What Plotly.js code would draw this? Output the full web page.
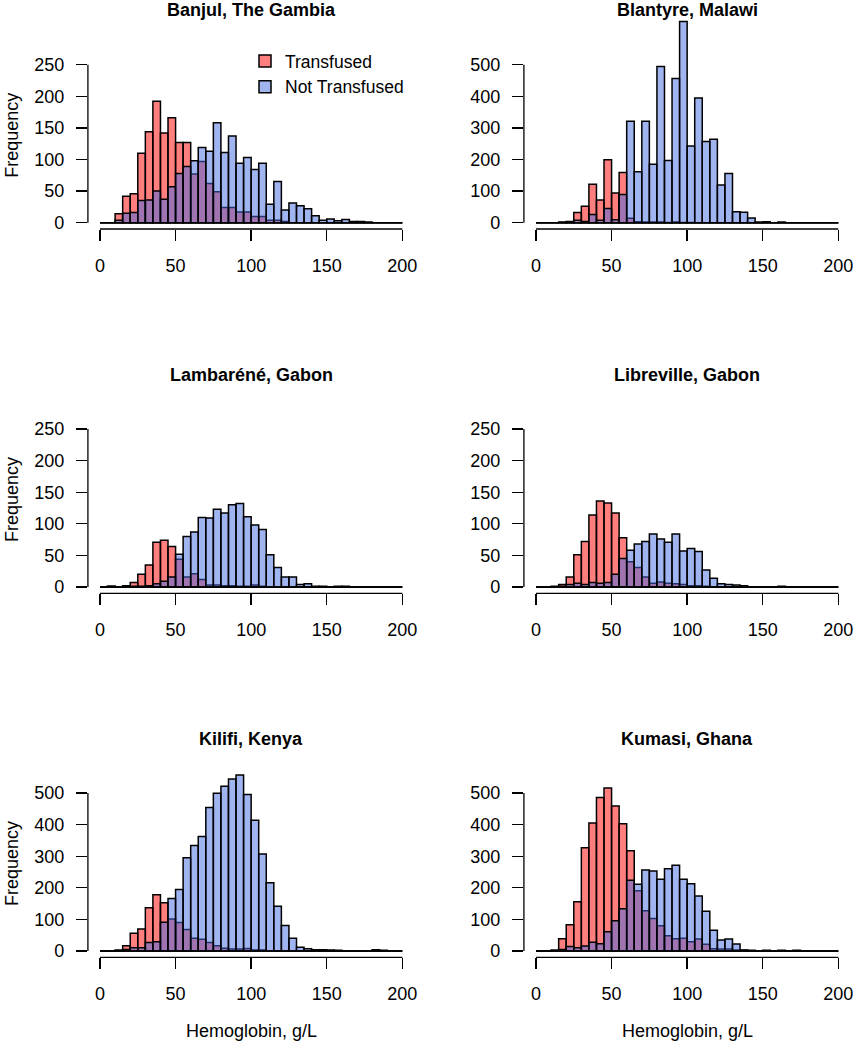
<!DOCTYPE html>
<html>
<head>
<meta charset="utf-8">
<script src="https://cdn.plot.ly/plotly-3.0.1.min.js"></script>
<style>html,body{margin:0;padding:0;background:#fff;}</style>
</head>
<body>
<div id="chart" style="width:857px;height:1050px;"></div>
<script>
// ---- data ----
const binEdges = [0,5,10,15,20,25,30,35,40,45,50,55,60,65,70,75,80,85,90,95,100,
                  105,110,115,120,125,130,135,140,145,150,155,160,165,170,175,180,185,190,195,200];
const xTicks = [0,50,100,150,200];
const sites = ["Banjul, The Gambia","Blantyre, Malawi","Lambaréné, Gabon","Libreville, Gabon","Kilifi, Kenya","Kumasi, Ghana"];
const seriesNames = ["Transfused","Not Transfused"];
const yTickMax = [250,500,250,250,500,500];

const banjulTransfused    = [0,0,14,42,46,110,144,192,142,166,127,127,77,97,62,49,24,24,17,17,10,10,4,4,2,0,0,0,0,0,0,0,0,0,0,0,0,0,0,0];
const banjulNotTransfused = [0,0,4,15,16,35,36,50,37,57,78,89,98,119,113,158,111,137,94,103,84,94,29,65,20,31,27,22,11,4,6,3,5,2,2,1,0,0,0,0];

const blantyreTransfused    = [0,0,0,2,4,32,52,122,72,199,94,159,14,3,2,2,2,1,2,1,1,0,0,0,0,0,0,0,0,0,0,0,0,0,0,0,0,0,0,0];
const blantyreNotTransfused = [0,0,0,1,2,8,4,26,8,45,9,89,321,161,321,185,494,197,456,637,243,395,257,264,119,156,35,33,15,2,3,0,2,0,0,0,0,0,0,0];

const lambareneTransfused    = [0,1,0,2,7,20,35,71,74,64,44,16,21,12,3,3,2,2,1,1,3,1,0,0,0,0,0,0,0,0,0,0,0,0,0,0,0,0,0,0];
const lambareneNotTransfused = [0,1,0,1,1,1,2,5,9,16,52,80,87,110,109,123,117,130,132,111,98,91,51,31,16,16,4,5,1,1,0,1,1,0,0,0,0,0,0,0];

const librevilleTransfused    = [0,0,1,4,16,51,72,114,136,133,117,78,40,31,16,6,8,6,5,4,2,2,1,0,0,0,0,0,0,0,0,0,0,0,0,0,0,0,0,0];
const librevilleNotTransfused = [0,0,0,1,4,6,4,7,6,7,20,45,58,68,72,84,76,71,84,57,61,56,27,14,5,4,3,2,0,0,0,0,1,0,0,0,0,0,0,0];

const kilifiTransfused    = [0,0,2,17,56,70,137,178,153,101,90,68,40,37,27,17,9,6,6,8,3,3,1,1,0,0,0,0,0,0,0,0,0,0,0,0,0,0,0,0];
const kilifiNotTransfused = [0,0,2,5,10,10,27,29,91,166,195,295,334,362,454,499,521,544,557,495,414,307,216,142,81,40,12,7,4,4,3,2,0,0,0,0,4,2,0,0];

const kumasiTransfused    = [0,0,3,39,83,156,327,405,486,516,459,403,317,191,127,103,80,48,39,40,29,38,21,7,6,6,3,2,1,0,0,0,0,0,0,0,0,0,0,0];
const kumasiNotTransfused = [0,0,0,5,14,10,16,28,23,61,96,134,224,211,256,253,227,260,271,227,213,174,126,66,35,38,22,3,2,0,2,0,2,0,2,0,0,0,0,0];

const transfused    = [banjulTransfused, blantyreTransfused, lambareneTransfused, librevilleTransfused, kilifiTransfused, kumasiTransfused];
const notTransfused = [banjulNotTransfused, blantyreNotTransfused, lambareneNotTransfused, librevilleNotTransfused, kilifiNotTransfused, kumasiNotTransfused];

// ---- layout geometry (pixels) ----
const W = 857, H = 1050;
const colX0 = [100, 536];          // pixel of x = 0
const pxPerX = 302.3 / 200;
const rowY0 = [222.7, 587, 951];   // pixel of y = 0
const axisPx = 158;                // pixels from 0 to top tick
const topPx = 212;                 // pixels from 0 to top of plot area
const FONT = "Liberation Sans, Arial, Helvetica, sans-serif";
const FS = 18;
const RED = "rgba(255,0,0,0.5)", BLUE = "rgba(65,105,225,0.5)";

const centers = binEdges.slice(0, -1).map((e, i) => (e + binEdges[i + 1]) / 2);
const widths = binEdges.slice(0, -1).map((e, i) => binEdges[i + 1] - e);

const data = [];
const layout = {
  width: W, height: H,
  margin: {l: 0, r: 0, t: 0, b: 0},
  paper_bgcolor: "#fff", plot_bgcolor: "rgba(0,0,0,0)",
  barmode: "overlay", bargap: 0,
  font: {family: FONT, size: FS, color: "#000"},
  showlegend: true,
  legend: {x: 245 / W, y: 1 - 43 / H, xanchor: "left", yanchor: "top",
           font: {family: FONT, size: 17.5, color: "#000"}, bgcolor: "rgba(0,0,0,0)",
           tracegroupgap: 0, itemgap: 0},
  shapes: [], annotations: []
};

for (let p = 0; p < 6; p++) {
  const c = p % 2, r = Math.floor(p / 2);
  const sfx = p === 0 ? "" : String(p + 1);
  const xa = "x" + sfx, ya = "y" + sfx;
  const tmax = yTickMax[p];
  const step = tmax / 5;
  const yticks = [0, step, 2 * step, 3 * step, 4 * step, 5 * step];
  const bottomPx = rowY0[r] + 0.04 * axisPx;
  const plotTopPx = rowY0[r] - topPx;
  const xLeftPx = colX0[c] - 8 * pxPerX;
  const xRightPx = colX0[c] + 208 * pxPerX;

  data.push({type: "bar", x: centers, y: transfused[p], width: widths, name: seriesNames[0],
    legendgroup: "t", showlegend: p === 0, xaxis: xa, yaxis: ya,
    marker: {color: RED, line: {color: "#000", width: 1.5}}, hoverinfo: "x+y+name"});
  data.push({type: "bar", x: centers, y: notTransfused[p], width: widths, name: seriesNames[1],
    legendgroup: "n", showlegend: p === 0, xaxis: xa, yaxis: ya,
    marker: {color: BLUE, line: {color: "#000", width: 1.5}}, hoverinfo: "x+y+name"});

  layout["xaxis" + sfx] = {
    domain: [xLeftPx / W, xRightPx / W], range: [-8, 208], anchor: ya,
    tickmode: "array", tickvals: xTicks, ticktext: xTicks.map(String),
    ticks: "outside", ticklen: 11, tickwidth: 1.3, tickcolor: "#000",
    showline: false, showgrid: false, zeroline: false, fixedrange: true,
    tickfont: {family: FONT, size: FS, color: "#000"}, ticklabelstandoff: 9
  };
  layout["yaxis" + sfx] = {
    domain: [1 - bottomPx / H, 1 - plotTopPx / H],
    range: [-0.04 * tmax, topPx / axisPx * tmax], anchor: xa,
    tickmode: "array", tickvals: yticks, ticktext: yticks.map(String),
    ticks: "outside", ticklen: 11, tickwidth: 1.3, tickcolor: "#000",
    showline: false, showgrid: false, zeroline: false, fixedrange: true,
    tickfont: {family: FONT, size: FS, color: "#000"}, ticklabelstandoff: 8
  };

  // R-style axis lines (only between first and last tick)
  layout.shapes.push({type: "line", xref: "paper", yref: "paper",
    x0: colX0[c] / W, x1: (colX0[c] + 200 * pxPerX) / W,
    y0: 1 - bottomPx / H, y1: 1 - bottomPx / H, line: {color: "#000", width: 1.3}});
  layout.shapes.push({type: "line", xref: "paper", yref: "paper",
    x0: xLeftPx / W, x1: xLeftPx / W,
    y0: 1 - rowY0[r] / H, y1: 1 - (rowY0[r] - axisPx) / H, line: {color: "#000", width: 1.3}});
  // baseline of empty bins
  layout.shapes.push({type: "line", xref: xa, yref: ya, x0: binEdges[0], x1: binEdges[binEdges.length - 1],
    y0: 0, y1: 0, line: {color: "#000", width: 1.5}});

  // panel title
  layout.annotations.push({text: "<b>" + sites[p] + "</b>", xref: "paper", yref: "paper",
    x: (colX0[c] + 100 * pxPerX) / W, y: 1 - (rowY0[r] - 212.5) / H,
    xanchor: "center", yanchor: "middle", showarrow: false,
    font: {family: FONT, size: FS, color: "#000"}});
  if (c === 0) {
    layout.annotations.push({text: "Frequency", xref: "paper", yref: "paper",
      x: 12 / W, y: 1 - (rowY0[r] - 87) / H, textangle: -90,
      xanchor: "center", yanchor: "middle", showarrow: false,
      font: {family: FONT, size: FS, color: "#000"}});
  }
  if (r === 2) {
    layout.annotations.push({text: "Hemoglobin, g/L", xref: "paper", yref: "paper",
      x: (colX0[c] + 100 * pxPerX) / W, y: 1 - 1031 / H,
      xanchor: "center", yanchor: "middle", showarrow: false,
      font: {family: FONT, size: FS, color: "#000"}});
  }
}

Plotly.newPlot("chart", data, layout, {displayModeBar: false, staticPlot: true});
</script>
</body>
</html>
